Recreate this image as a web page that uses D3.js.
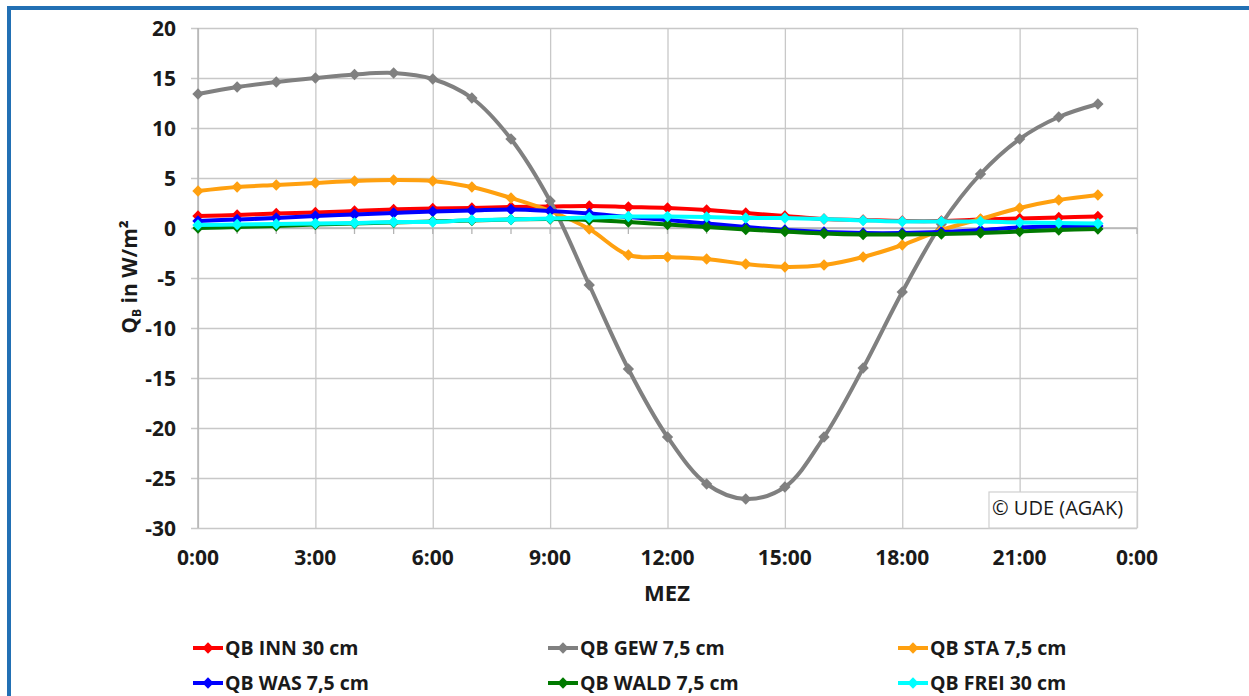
<!DOCTYPE html>
<html>
<head>
<meta charset="utf-8">
<script src="https://cdn.jsdelivr.net/npm/d3@7"></script>
<style>
  body { margin: 0; background: #fff; }
  text { font-family: "Open Sans", "Noto Sans", sans-serif; }
  .grid line { stroke: #c8c8c8; stroke-width: 1.3; }
  .grid path { display: none; }
</style>
</head>
<body>
<div id="chart"></div>
<script>
var width = 1249,
    height = 696;

// hours of the day (MEZ)
var hours = [0, 1, 2, 3, 4, 5, 6, 7, 8, 9, 10, 11, 12, 13, 14, 15, 16, 17, 18, 19, 20, 21, 22, 23];

var inn  = [1.2, 1.3, 1.45, 1.55, 1.7, 1.85, 1.95, 2.0, 2.1, 2.15, 2.2, 2.1, 2.0, 1.8, 1.5, 1.2, 0.9, 0.8, 0.7, 0.7, 0.85, 0.95, 1.05, 1.15];
var gew  = [13.4, 14.1, 14.6, 15.0, 15.35, 15.5, 14.9, 13.0, 8.9, 2.7, -5.7, -14.1, -20.9, -25.6, -27.1, -25.9, -20.9, -14.0, -6.4, 0.4, 5.4, 8.9, 11.1, 12.4];
var sta  = [3.7, 4.1, 4.3, 4.5, 4.7, 4.8, 4.7, 4.1, 3.0, 1.7, -0.1, -2.7, -2.9, -3.1, -3.6, -3.9, -3.7, -2.9, -1.7, -0.2, 0.9, 2.0, 2.8, 3.3];
var was  = [0.7, 0.85, 1.0, 1.2, 1.35, 1.5, 1.65, 1.75, 1.85, 1.7, 1.45, 1.1, 0.8, 0.45, 0.1, -0.2, -0.4, -0.5, -0.5, -0.4, -0.2, 0.05, 0.15, 0.2];
var wald = [0.0, 0.1, 0.2, 0.35, 0.45, 0.55, 0.65, 0.75, 0.85, 0.9, 0.8, 0.6, 0.35, 0.1, -0.15, -0.35, -0.55, -0.65, -0.65, -0.6, -0.5, -0.35, -0.2, -0.1];
var frei = [0.3, 0.35, 0.4, 0.45, 0.5, 0.6, 0.6, 0.8, 0.85, 0.95, 1.05, 1.15, 1.15, 1.1, 1.0, 1.0, 0.9, 0.75, 0.65, 0.65, 0.65, 0.55, 0.5, 0.45];

var seriesNames = ["QB INN 30 cm", "QB GEW 7,5 cm", "QB STA 7,5 cm", "QB WAS 7,5 cm", "QB WALD 7,5 cm", "QB FREI 30 cm"];
var seriesColors = ["#ff0000", "#808080", "#ffa00f", "#0000ff", "#007a00", "#00ffff"];
var seriesValues = [inn, gew, sta, was, wald, frei];

var yTicks = [-30, -25, -20, -15, -10, -5, 0, 5, 10, 15, 20];
var xTicks = [0, 3, 6, 9, 12, 15, 18, 21, 24];
var xTickLabels = ["0:00", "3:00", "6:00", "9:00", "12:00", "15:00", "18:00", "21:00", "0:00"];
var hourTicks = [0, 1, 2, 3, 4, 5, 6, 7, 8, 9, 10, 11, 12, 13, 14, 15, 16, 17, 18, 19, 20, 21, 22, 23, 24];

var x = d3.scaleLinear().domain([0, 24]).range([198, 1137]);
var y = d3.scaleLinear().domain([-30, 20]).range([528, 28]);

var svg = d3.select("#chart").append("svg")
    .attr("width", width)
    .attr("height", height);

svg.append("rect")
    .attr("width", width)
    .attr("height", height)
    .attr("fill", "#fff");

// blue frame (only top and left edges fall inside the picture)
svg.append("rect")
    .attr("x", 9)
    .attr("y", 8)
    .attr("width", width + 20)
    .attr("height", height + 20)
    .attr("fill", "none")
    .attr("stroke", "#2270b4")
    .attr("stroke-width", 4);

// gridlines
svg.append("g")
    .attr("class", "grid")
    .attr("transform", "translate(" + x(24) + ",0)")
    .call(d3.axisLeft(y).tickValues(yTicks).tickSize(x(24) - 191).tickFormat(""));

svg.append("g")
    .attr("class", "grid")
    .attr("transform", "translate(0," + y(-30) + ")")
    .call(d3.axisBottom(x).tickValues(xTicks).tickSize(-(y(-30) - y(20))).tickFormat(""));

// left axis line
svg.append("line")
    .attr("x1", x(0)).attr("x2", x(0))
    .attr("y1", y(20)).attr("y2", y(-30))
    .attr("stroke", "#b4b4b4").attr("stroke-width", 1.5);

// horizontal axis at zero with hourly ticks
svg.append("line")
    .attr("x1", x(0)).attr("x2", x(24))
    .attr("y1", y(0)).attr("y2", y(0))
    .attr("stroke", "#b4b4b4").attr("stroke-width", 1.5);

svg.selectAll(".hourtick")
    .data(hourTicks)
    .enter().append("line")
    .attr("class", "hourtick")
    .attr("x1", function(d) { return x(d); })
    .attr("x2", function(d) { return x(d); })
    .attr("y1", y(0))
    .attr("y2", y(0) + 6)
    .attr("stroke", "#b4b4b4").attr("stroke-width", 1.3);

// y tick labels
svg.selectAll(".ylab")
    .data(yTicks)
    .enter().append("text")
    .attr("class", "ylab")
    .attr("x", 176)
    .attr("y", function(d) { return y(d); })
    .attr("dy", "0.36em")
    .attr("text-anchor", "end")
    .attr("font-size", 21)
    .attr("font-weight", "bold")
    .attr("fill", "#1a1a1a")
    .text(function(d) { return String(d); });

// x tick labels
svg.selectAll(".xlab")
    .data(xTicks)
    .enter().append("text")
    .attr("class", "xlab")
    .attr("x", function(d) { return x(d); })
    .attr("y", 565)
    .attr("text-anchor", "middle")
    .attr("font-size", 21)
    .attr("font-weight", "bold")
    .attr("fill", "#1a1a1a")
    .text(function(d, i) { return xTickLabels[i]; });

// axis titles
svg.append("text")
    .attr("x", 667)
    .attr("y", 601)
    .attr("text-anchor", "middle")
    .attr("font-size", 22)
    .attr("font-weight", "bold")
    .attr("fill", "#1a1a1a")
    .text("MEZ");

var yt = svg.append("text")
    .attr("transform", "translate(137,277) rotate(-90)")
    .attr("text-anchor", "middle")
    .attr("font-size", 21)
    .attr("font-weight", "bold")
    .attr("fill", "#1a1a1a");
yt.append("tspan").text("Q");
yt.append("tspan").attr("font-size", 12).attr("dy", 4).text("B");
yt.append("tspan").attr("dy", -4).text(" in W/m²");

// series
var line = d3.line()
    .x(function(d) { return x(d[0]); })
    .y(function(d) { return y(d[1]); })
    .curve(d3.curveCatmullRom.alpha(0.5));

var diamond = d3.symbol().type(d3.symbolSquare).size(64);

seriesValues.forEach(function(vals, i) {
  var pts = hours.map(function(h, j) { return [h, vals[j]]; });
  var g = svg.append("g");
  g.append("path")
      .datum(pts)
      .attr("fill", "none")
      .attr("stroke", seriesColors[i])
      .attr("stroke-width", 4)
      .attr("stroke-linejoin", "round")
      .attr("d", line);
  g.selectAll(".pin")
      .data(pts)
      .enter().append("path")
      .attr("class", "pin")
      .attr("d", diamond)
      .attr("fill", seriesColors[i])
      .attr("transform", function(d) {
        return "translate(" + x(d[0]) + "," + y(d[1]) + ") rotate(45)";
      });
});

// copyright box
svg.append("rect")
    .attr("x", 989)
    .attr("y", 492)
    .attr("width", x(24) - 989)
    .attr("height", y(-30) - 492)
    .attr("fill", "#fff")
    .attr("stroke", "#d0d0d0")
    .attr("stroke-width", 1.2);

svg.append("text")
    .attr("x", 992)
    .attr("y", 515)
    .attr("font-size", 20)
    .attr("fill", "#1a1a1a")
    .text("© UDE (AGAK)");

// legend
var legendCols = [193, 548, 898],
    legendRows = [648, 683];

seriesNames.forEach(function(name, i) {
  var lx = legendCols[i % 3],
      ly = legendRows[Math.floor(i / 3)];
  var g = svg.append("g").attr("transform", "translate(" + lx + "," + ly + ")");
  g.append("line")
      .attr("x1", 0).attr("x2", 30)
      .attr("stroke", seriesColors[i])
      .attr("stroke-width", 4);
  g.append("path")
      .attr("d", diamond)
      .attr("fill", seriesColors[i])
      .attr("transform", "translate(15,0) rotate(45)");
  g.append("text")
      .attr("x", 32)
      .attr("y", 7)
      .attr("font-size", 19.5)
      .attr("font-weight", "bold")
      .attr("fill", "#1a1a1a")
      .text(name);
});
</script>
</body>
</html>
